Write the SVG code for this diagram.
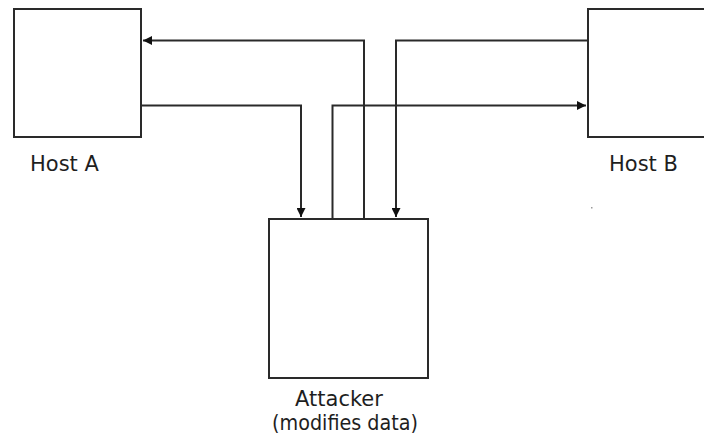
<svg xmlns="http://www.w3.org/2000/svg" width="704" height="438" viewBox="0 0 704 438">
  <style>
    .box { fill: #ffffff; stroke: #2a2a2a; stroke-width: 2; }
    .wire { fill: none; stroke: #2a2a2a; stroke-width: 2; }
    .label { font-family: "DejaVu Sans", Verdana, sans-serif; font-size: 21px; fill: #1e1e1e; }
  </style>
  <defs>
    <marker id="arrow" viewBox="0 0 10 10" refX="10" refY="5" markerWidth="5" markerHeight="4.5" orient="auto" markerUnits="strokeWidth">
      <path d="M0,0 L10,5 L0,10 z" fill="#111111"/>
    </marker>
  </defs>
  <rect width="704" height="438" fill="#ffffff"/>

  <g id="host-a">
    <rect class="box" x="14" y="9" width="127" height="128"/>
    <text class="label" x="30" y="171">Host A</text>
  </g>

  <g id="host-b">
    <rect class="box" x="588" y="9" width="130" height="128"/>
    <text class="label" x="609" y="171">Host B</text>
  </g>

  <g id="attacker">
    <rect class="box" x="269" y="219" width="159" height="159"/>
    <text class="label" x="339" y="406" text-anchor="middle">Attacker</text>
    <text class="label" x="272" y="430" font-size="20" textLength="146" lengthAdjust="spacingAndGlyphs">(modifies data)</text>
  </g>

  <g id="connectors">
    <!-- Host A to attacker -->
    <polyline class="wire" points="141,105.5 301,105.5 301,217" marker-end="url(#arrow)"/>
    <!-- attacker to Host A -->
    <polyline class="wire" points="364,219 364,40.5 143,40.5" marker-end="url(#arrow)"/>
    <!-- Host B to attacker -->
    <polyline class="wire" points="588,40.5 396,40.5 396,217" marker-end="url(#arrow)"/>
    <!-- attacker to Host B -->
    <polyline class="wire" points="332.5,219 332.5,105.5 586,105.5" marker-end="url(#arrow)"/>
  </g>

  <rect x="591" y="207" width="1.5" height="1.5" fill="#9a9a9a"/>
</svg>
